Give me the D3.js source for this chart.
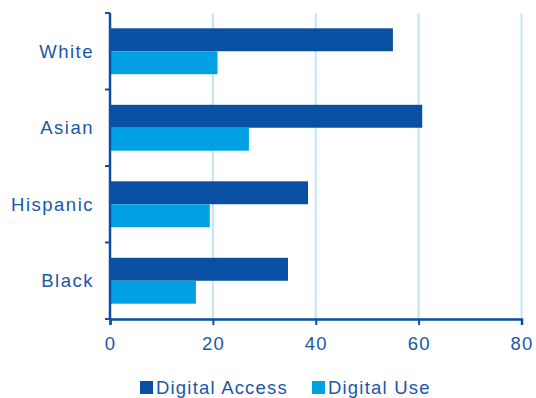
<!DOCTYPE html>
<html>
<head>
<meta charset="utf-8">
<script src="https://cdn.jsdelivr.net/npm/d3@7/dist/d3.min.js"></script>
<style>
  html, body { margin: 0; padding: 0; background: #fff; }
  svg text { font-family: "Liberation Sans", Arial, sans-serif; fill: #1b57a8; }
</style>
</head>
<body>
<svg id="chart" width="536" height="398"></svg>
<script>
// Groups, top to bottom
const categories = ["White", "Asian", "Hispanic", "Black"];
const seriesNames = ["Digital Access", "Digital Use"];
const digitalAccess = [55, 60.7, 38.5, 34.6];
const digitalUse = [20.9, 27, 19.4, 16.7];
const xTicks = [0, 20, 40, 60, 80];

const colors = { "Digital Access": "#0a50a2", "Digital Use": "#00a0e3" };
const axisColor = "#0b4ea2";
const gridColor = "#bfe6f6";

const svg = d3.select("#chart");
const margin = { left: 110, right: 14.5, top: 13, bottom: 79 };
const W = 536, H = 398;

const x = d3.scaleLinear().domain([0, 80]).range([margin.left, W - margin.right]);
const y = d3.scaleBand().domain(categories)
  .range([margin.top, H - margin.bottom]).paddingInner(0.4).paddingOuter(0.2);
const ySub = d3.scaleBand().domain(seriesNames).range([0, y.bandwidth()]);

const rows = categories.map((c, i) => ({
  cat: c, values: [
    { key: "Digital Access", v: digitalAccess[i] },
    { key: "Digital Use", v: digitalUse[i] }
  ]
}));

// Vertical gridlines
svg.append("g").selectAll("line").data(xTicks.filter(d => d > 0)).join("line")
  .attr("x1", d => x(d)).attr("x2", d => x(d))
  .attr("y1", margin.top).attr("y2", H - margin.bottom)
  .attr("stroke", gridColor).attr("stroke-width", 2);

// Bars
svg.append("g").selectAll("g").data(rows).join("g")
  .attr("transform", d => `translate(0,${y(d.cat)})`)
  .selectAll("rect").data(d => d.values).join("rect")
  .attr("x", x(0))
  .attr("y", d => ySub(d.key))
  .attr("width", d => x(d.v) - x(0))
  .attr("height", ySub.bandwidth())
  .attr("fill", d => colors[d.key]);

// Category labels
svg.append("g").selectAll("text").data(categories).join("text")
  .attr("x", margin.left - 16)
  .attr("y", d => y(d) + y.bandwidth() / 2)
  .attr("dy", "0.35em")
  .attr("text-anchor", "end")
  .attr("font-size", 18.5)
  .attr("letter-spacing", 1.5)
  .text(d => d);

// Left axis line with ticks at group boundaries
const step = y.step();
const boundaries = d3.range(categories.length + 1).map(i => margin.top + i * step);
const yAxisG = svg.append("g");
yAxisG.append("line")
  .attr("x1", margin.left).attr("x2", margin.left)
  .attr("y1", margin.top).attr("y2", H - margin.bottom + 1)
  .attr("stroke", axisColor).attr("stroke-width", 2.5);
yAxisG.selectAll("line.tick").data(boundaries).join("line").attr("class", "tick")
  .attr("x1", margin.left - 5).attr("x2", margin.left)
  .attr("y1", d => d).attr("y2", d => d)
  .attr("stroke", axisColor).attr("stroke-width", 2);

// Bottom axis
const xAxis = d3.axisBottom(x).tickValues(xTicks).tickSize(6).tickPadding(12);
const xg = svg.append("g").attr("transform", `translate(0,${H - margin.bottom})`).call(xAxis);
xg.select(".domain").attr("stroke", axisColor).attr("stroke-width", 2.5);
xg.selectAll(".tick line").attr("stroke", axisColor).attr("stroke-width", 2);
xg.selectAll(".tick text")
  .attr("font-size", 18.5).attr("letter-spacing", 1.2)
  .attr("font-family", "Liberation Sans, Arial, sans-serif")
  .attr("fill", "#1b57a8");

// Legend
const legendItems = [
  { key: "Digital Access", x: 140 },
  { key: "Digital Use", x: 312 }
];
const lg = svg.append("g");
lg.selectAll("rect").data(legendItems).join("rect")
  .attr("x", d => d.x).attr("y", 381)
  .attr("width", 13).attr("height", 13)
  .attr("fill", d => colors[d.key]);
lg.selectAll("text").data(legendItems).join("text")
  .attr("x", d => d.x + 16).attr("y", 393.5)
  .attr("font-size", 18.5).attr("letter-spacing", 1.2)
  .text(d => d.key);
</script>
</body>
</html>
